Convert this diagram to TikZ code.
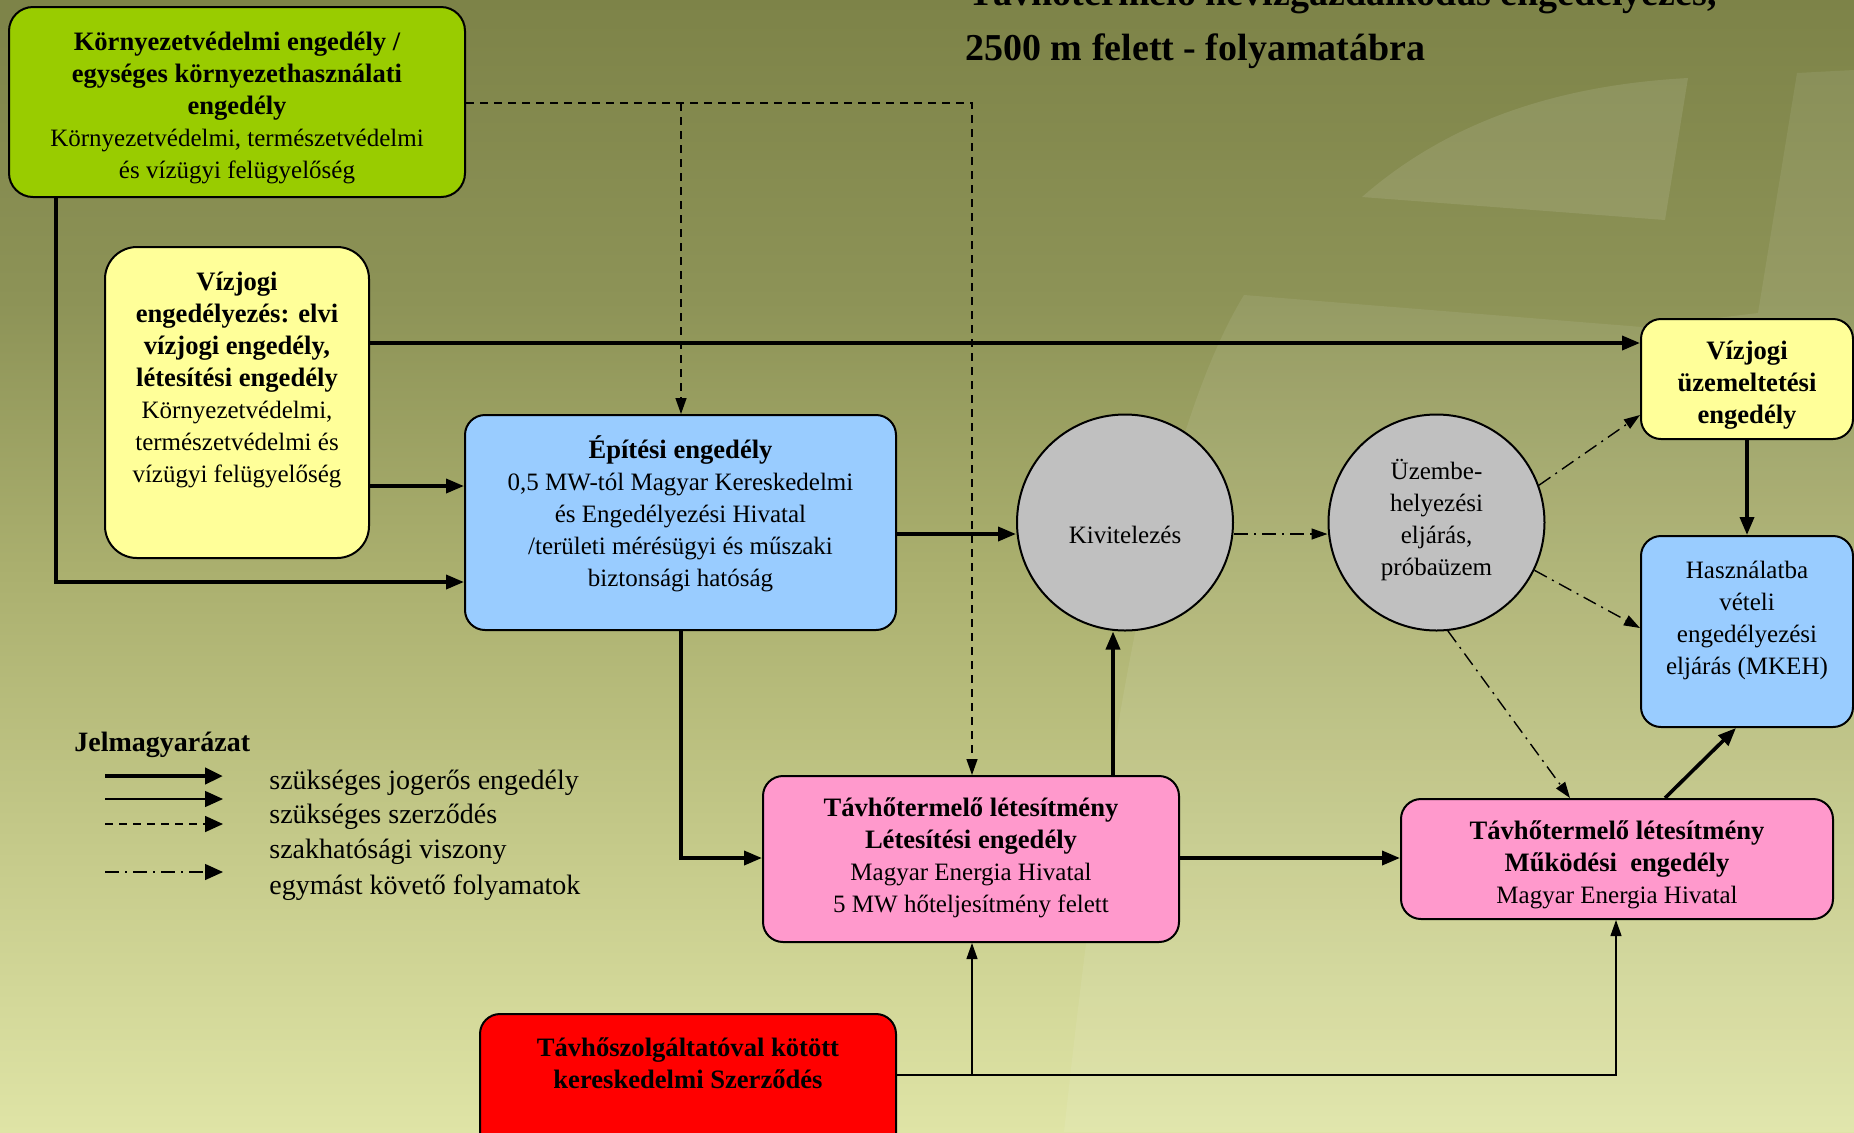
\documentclass[tikz,border=0pt]{standalone}
\usepackage{fontspec}
\setmainfont{Liberation Serif}
\usetikzlibrary{arrows.meta,calc}
\definecolor{bgtop}{RGB}{125,131,72}
\definecolor{bgfour}{RGB}{141,147,87}
\definecolor{bgthree}{RGB}{170,175,110}
\definecolor{bgtwo}{RGB}{197,202,138}
\definecolor{bgbot}{RGB}{223,228,166}
\definecolor{boxgreen}{RGB}{153,204,0}
\definecolor{boxyellow}{RGB}{255,255,153}
\definecolor{boxblue}{RGB}{153,204,255}
\definecolor{boxgray}{RGB}{192,192,192}
\definecolor{boxpink}{RGB}{255,153,204}
\definecolor{boxred}{RGB}{255,0,0}
\pgfdeclareverticalshading{bgshade}{100bp}{color(0bp)=(bgbot); color(25bp)=(bgbot); color(37.5bp)=(bgtwo); color(50bp)=(bgthree); color(61.7bp)=(bgfour); color(75bp)=(bgtop); color(100bp)=(bgtop)}
\newcommand{\bt}[1]{{\bfseries\fontsize{13.3}{16}\selectfont #1}}
\begin{document}
\begin{tikzpicture}[x=0.5pt,y=-0.5pt,
  box/.style={draw=black, line width=1pt, rounded corners=10pt, inner sep=0pt},
  txt/.style={align=center, inner sep=0pt, font=\fontsize{12.5}{16}\selectfont},
  thickarrow/.style={line width=1.8pt, -{Triangle[length=9pt,width=7pt]}},
  thinarrow/.style={line width=0.6pt, -{Triangle[length=8pt,width=5.5pt]}},
  dasharrow/.style={line width=0.7pt, dash pattern=on 4pt off 3pt, -{Triangle[length=8pt,width=5.5pt]}},
  ddarrow/.style={line width=0.7pt, dash pattern=on 7pt off 3pt on 1pt off 3pt, -{Triangle[length=8pt,width=5.5pt]}},
  legtxt/.style={anchor=base west, inner sep=0pt, font=\fontsize{14}{16}\selectfont}
]
\useasboundingbox (0,0) rectangle (1854,1132);
\clip (0,0) rectangle (1854,1132);
\shade[shading=bgshade] (0,0) rectangle (1854,1132);
% faint background decoration
\fill[white, opacity=0.1] (1362,197) .. controls (1450,120) and (1560,85) .. (1688,78) -- (1665,220) -- cycle;
\fill[white, opacity=0.08] (1244,295) -- (1642,327) -- (1758,313) -- (1797,73) -- (1854,70) -- (1854,1132) -- (1064,1132) .. controls (1100,800) and (1150,450) .. (1244,295) -- cycle;

% title
\node[anchor=base west, inner sep=0pt, font=\fontsize{19}{24}\selectfont\bfseries] (title1) at (968,5) {Távhőtermelő hévízgazdálkodás engedélyezés,};
\node[anchor=base west, inner sep=0pt, font=\fontsize{19}{24}\selectfont\bfseries] (title2) at (965,60) {2500 m felett - folyamatábra};

% boxes
\node[box, fill=boxgreen, minimum width=228pt, minimum height=95pt, rounded corners=12pt] (env) at (237,102) {};
\node[box, fill=boxyellow, minimum width=132pt, minimum height=155.5pt, rounded corners=16pt] (viz) at (237,402.5) {};
\node[box, fill=boxblue, minimum width=215.5pt, minimum height=107.5pt] (epit) at (680.5,522.5) {};
\node[draw=black, line width=1pt, fill=boxgray, circle, minimum size=108pt, inner sep=0pt] (kiv) at (1125,522.5) {};
\node[draw=black, line width=1pt, fill=boxgray, circle, minimum size=108pt, inner sep=0pt] (uzem) at (1436.5,522.5) {};
\node[box, fill=boxyellow, minimum width=106pt, minimum height=60pt] (vizuz) at (1747,379) {};
\node[box, fill=boxblue, minimum width=106pt, minimum height=95.5pt] (haszn) at (1747,631.5) {};
\node[box, fill=boxpink, minimum width=208pt, minimum height=83pt] (letes) at (971,859) {};
\node[box, fill=boxpink, minimum width=216pt, minimum height=60pt] (mukod) at (1617,859) {};
\node[box, fill=boxred, minimum width=208pt, minimum height=73pt] (red) at (688,1087) {};

% texts
\node[txt] (envt) at (237,108) {\bt{Környezetvédelmi engedély /}\\\bt{egységes környezethasználati}\\\bt{engedély}\\Környezetvédelmi, természetvédelmi\\és vízügyi felügyelőség};
\node[txt] (vizt) at (237,380) {\bt{Vízjogi}\\\bt{engedélyezés: elvi}\\\bt{vízjogi engedély,}\\\bt{létesítési engedély}\\Környezetvédelmi,\\természetvédelmi és\\vízügyi felügyelőség};
\node[txt] (epitt) at (680.5,514) {\bt{Építési engedély}\\0,5 MW-tól Magyar Kereskedelmi\\és Engedélyezési Hivatal\\/területi mérésügyi és műszaki\\biztonsági hatóság};
\node[txt] (kivt) at (1125,535) {Kivitelezés};
\node[txt] (uzemt) at (1436.5,520) {Üzembe-\\helyezési\\eljárás,\\próbaüzem};
\node[txt] (vizuzt) at (1747,385) {\bt{Vízjogi}\\\bt{üzemeltetési}\\\bt{engedély}};
\node[txt] (hasznt) at (1747,620) {Használatba\\vételi\\engedélyezési\\eljárás (MKEH)};
\node[txt] (letest) at (971,858) {\bt{Távhőtermelő létesítmény}\\\bt{Létesítési engedély}\\Magyar Energia Hivatal\\5 MW hőteljesítmény felett};
\node[txt] (mukodt) at (1617,865) {\bt{Távhőtermelő létesítmény}\\\bt{Működési \ engedély}\\Magyar Energia Hivatal};
\node[txt] (redt) at (688,1063) {\bt{Távhőszolgáltatóval kötött}\\\bt{kereskedelmi Szerződés}};

% connectors
\coordinate (g1) at (56,582);
\draw[thickarrow] (env.south -| g1) -- (g1) -- (epit.west |- g1);
\coordinate (v1) at (0,486);
\draw[thickarrow] (viz.east |- v1) -- (epit.west |- v1);
\coordinate (v2) at (0,343);
\draw[thickarrow] (viz.east |- v2) -- (vizuz.west |- v2);
\coordinate (d1) at (972,103);
\coordinate (d2) at (681,103);
\draw[dasharrow] (env.east |- d1) -- (d1) -- (letes.north -| d1);
\draw[dasharrow] (d2) -- (epit.north -| d2);
\coordinate (e1) at (681,858);
\draw[thickarrow] (epit.south -| e1) -- (e1) -- (letes.west |- e1);
\coordinate (k1) at (0,534);
\draw[thickarrow] (epit.east |- k1) -- (kiv.west |- k1);
\draw[ddarrow] (kiv.east |- k1) -- (uzem.west |- k1);
\coordinate (k2) at (1113,0);
\draw[thickarrow] (letes.north -| k2) -- (kiv.south -| k2);
\draw[thickarrow] (letes.east |- e1) -- (mukod.west |- e1);
\draw[thickarrow] (vizuz.south) -- (haszn.north);
\coordinate (m1) at (1665,0);
\coordinate (m2) at (1736,0);
\draw[thickarrow] (mukod.north -| m1) -- (haszn.south -| m2);
\coordinate (u1) at (0,415);
\coordinate (u2) at (0,628);
\coordinate (u3) at (1570,0);
\draw[ddarrow] (uzem.20) -- (vizuz.west |- u1);
\draw[ddarrow] (uzem.-26) -- (haszn.west |- u2);
\draw[ddarrow] (uzem.-84) -- (mukod.north -| u3);
\coordinate (r1) at (1616,1075);
\coordinate (r2) at (972,1075);
\draw[thinarrow] (red.east |- r1) -- (r1) -- (mukod.south -| r1);
\draw[thinarrow] (r2) -- (letes.south -| r2);

% legend
\node[anchor=base west, inner sep=0pt, font=\fontsize{14}{16}\selectfont\bfseries] (leg) at (74,751) {Jelmagyarázat};
\coordinate (la1) at (105,776); \coordinate (lb1) at (223,776);
\coordinate (la2) at (105,799); \coordinate (lb2) at (223,799);
\coordinate (la3) at (105,824); \coordinate (lb3) at (223,824);
\coordinate (la4) at (105,872); \coordinate (lb4) at (223,872);
\draw[line width=2.2pt, -{Triangle[length=9pt,width=8pt]}] (la1) -- (lb1);
\draw[line width=0.7pt, -{Triangle[length=9pt,width=8pt]}] (la2) -- (lb2);
\draw[line width=0.8pt, dash pattern=on 4pt off 3pt, -{Triangle[length=9pt,width=8pt]}] (la3) -- (lb3);
\draw[line width=0.7pt, dash pattern=on 7pt off 3pt on 1pt off 3pt, -{Triangle[length=9pt,width=8pt]}] (la4) -- (lb4);
\node[legtxt] (lt1) at (269,789) {szükséges jogerős engedély};
\node[legtxt] (lt2) at (269,823) {szükséges szerződés};
\node[legtxt] (lt3) at (269,858) {szakhatósági viszony};
\node[legtxt] (lt4) at (269,894) {egymást követő folyamatok};
\end{tikzpicture}
\end{document}
